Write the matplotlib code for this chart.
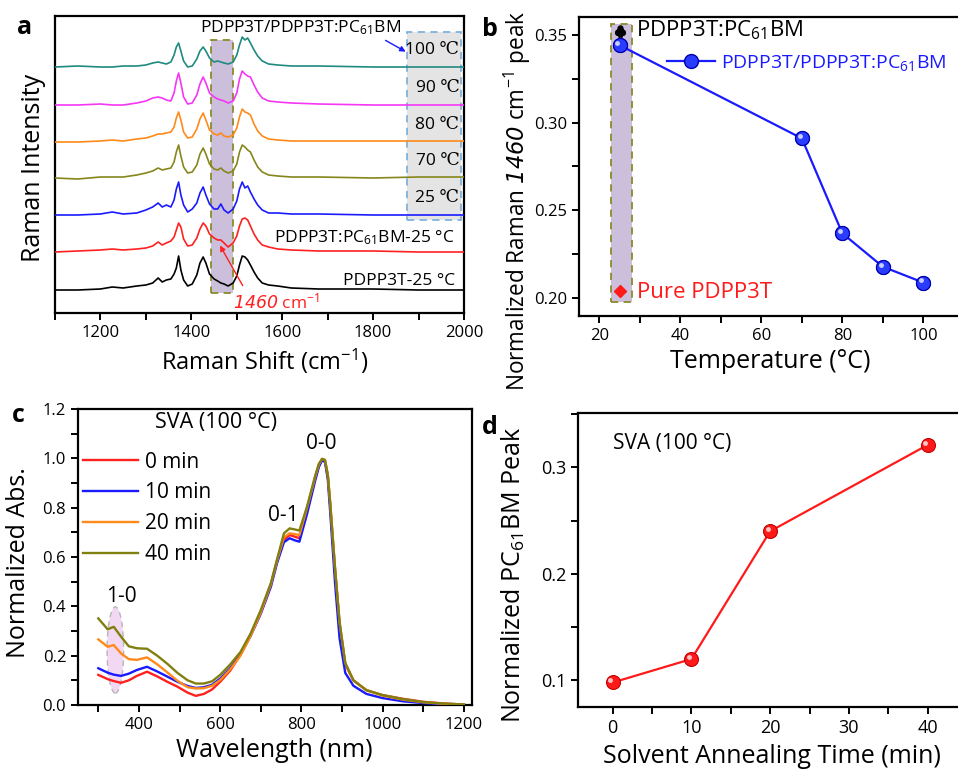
import matplotlib
matplotlib.use('Agg')
import matplotlib.pyplot as plt
from matplotlib.patches import Rectangle, Ellipse
from matplotlib.transforms import offset_copy
from matplotlib.ticker import MultipleLocator, FormatStrFormatter

plt.rcParams['font.family'] = ['Open Sans', 'DejaVu Sans']
plt.rcParams['mathtext.fontset'] = 'custom'
plt.rcParams['mathtext.rm'] = 'Open Sans'
plt.rcParams['mathtext.it'] = 'Open Sans:italic'
plt.rcParams['mathtext.sf'] = 'DejaVu Sans:italic'
plt.rcParams['mathtext.bf'] = 'Open Sans:bold'

# ---------------- Panel a: Raman spectra ----------------
raman_shift = [1100, 1150, 1200, 1226, 1250, 1280, 1300, 1315, 1327, 1336, 1345, 1355, 1362, 1367,
               1372, 1377, 1383, 1392, 1402, 1412, 1419, 1426, 1432, 1440, 1450, 1458, 1465, 1472,
               1481, 1492, 1500, 1506, 1512, 1518, 1524, 1530, 1538, 1546, 1556, 1570, 1590, 1620,
               1680, 1800, 1900, 2000]
raman_black = [0, 0, 1, 3, 2, 4, 5, 7, 12, 8, 10, 11, 16, 22, 34, 20, 10, 4, 6, 15, 27, 33, 27, 16,
               11, 9, 7, 6, 4, 7, 14, 25, 34, 33, 30, 25, 18, 12, 7, 5, 4, 2, 1, 1, 0, 0]
raman_red = [0, 1, 2, 3, 2, 3, 4, 6, 10, 7, 9, 11, 15, 22, 29, 25, 13, 6, 7, 14, 23, 29, 26, 18,
             14, 12, 12, 9, 5, 9, 16, 26, 33, 34, 32, 26, 18, 12, 7, 5, 3, 2, 1, 1, 0, 0]
raman_25 = [0, 0, 1, 3, 1, 2, 5, 8, 12, 8, 10, 8, 15, 26, 33, 20, 10, 3, 6, 12, 22, 28, 20, 11,
            6, 6, 11, 5, 2, 6, 14, 26, 33, 27, 29, 23, 16, 10, 5, 2, 2, 1, 1, 0, 0, 0]
raman_70 = [0, -1, 1, 1, 1, 3, 5, 7, 10, 8, 9, 10, 16, 26, 33, 22, 11, 5, 6, 13, 24, 30, 24, 14,
            9, 8, 10, 7, 5, 7, 14, 26, 33, 31, 28, 26, 18, 11, 6, 3, 2, 1, 1, 0, 1, 1]
raman_80 = [0, 0, 1, 2, 1, 3, 4, 6, 8, 8, 9, 10, 15, 24, 30, 22, 10, 4, 5, 13, 23, 29, 22, 12,
            8, 7, 9, 6, 5, 7, 14, 25, 33, 30, 29, 27, 18, 11, 6, 3, 2, 1, 1, 1, 1, 1]
raman_90 = [0, 0, 1, 0, 0, 2, 4, 7, 8, 7, 5, 4, 12, 24, 32, 22, 8, 1, 2, 10, 21, 28, 22, 12,
            8, 6, 5, 4, 2, 4, 12, 26, 34, 31, 29, 28, 20, 13, 7, 4, 3, 2, 1, 0, 0, 0]
raman_100 = [0, 1, 0, 0, 1, 1, 2, 4, 5, 4, 3, 5, 12, 20, 24, 16, 6, 0, 1, 8, 16, 20, 16, 9,
             5, 6, 5, 4, 3, 5, 12, 22, 30, 27, 29, 24, 17, 11, 6, 3, 2, 1, 1, 0, 0, 0]
raman_traces = [raman_black, raman_red, raman_25, raman_70, raman_80, raman_90, raman_100]
raman_offsets = [23, 61, 98, 135, 171, 208, 246]
raman_colors = ['#000000', '#ff2020', '#1a1aff', '#86861c', '#ff8a1a', '#f536f5', '#1f8a80']
temp_labels = ['25 ℃', '70 ℃', '80 ℃', '90 ℃', '100 ℃']

# ---------------- Panel b ----------------
temps = [25, 70, 80, 90, 100]
raman_1460 = [0.344, 0.291, 0.237, 0.218, 0.209]
blend_T = [25]
blend_val = [0.352]
pure_T = [25]
pure_val = [0.204]

# ---------------- Panel c: absorption ----------------
wavelength = [300, 323, 338, 356, 375, 395, 420, 445, 470, 495, 520, 540, 560, 580, 600, 625, 650,
              675, 700, 725, 740, 757, 771, 783, 795, 814, 834, 843, 851, 858, 865, 871, 883, 894,
              908, 928, 960, 1000, 1050, 1100, 1150, 1200]
abs_0 = [0.122, 0.105, 0.097, 0.090, 0.100, 0.118, 0.135, 0.116, 0.094, 0.074, 0.050, 0.037, 0.045,
         0.063, 0.094, 0.140, 0.205, 0.285, 0.375, 0.490, 0.585, 0.670, 0.689, 0.683, 0.676, 0.790,
         0.920, 0.972, 0.996, 0.990, 0.930, 0.810, 0.545, 0.330, 0.165, 0.100, 0.060, 0.040, 0.025,
         0.013, 0.006, 0.002]
abs_10 = [0.149, 0.131, 0.123, 0.118, 0.127, 0.142, 0.155, 0.136, 0.115, 0.094, 0.077, 0.069, 0.072,
          0.082, 0.107, 0.150, 0.205, 0.280, 0.370, 0.480, 0.575, 0.660, 0.676, 0.668, 0.662, 0.775,
          0.910, 0.965, 0.992, 0.985, 0.915, 0.780, 0.490, 0.270, 0.130, 0.078, 0.045, 0.028, 0.015,
          0.008, 0.003, 0.001]
abs_20 = [0.266, 0.236, 0.243, 0.209, 0.186, 0.183, 0.193, 0.165, 0.132, 0.098, 0.072, 0.067, 0.068,
          0.078, 0.101, 0.145, 0.200, 0.280, 0.375, 0.490, 0.585, 0.680, 0.696, 0.693, 0.689, 0.800,
          0.925, 0.975, 0.998, 0.994, 0.935, 0.820, 0.550, 0.335, 0.170, 0.100, 0.060, 0.038, 0.022,
          0.011, 0.005, 0.002]
abs_40 = [0.351, 0.307, 0.317, 0.277, 0.238, 0.230, 0.228, 0.200, 0.167, 0.130, 0.100, 0.087, 0.087,
          0.096, 0.122, 0.165, 0.215, 0.290, 0.385, 0.495, 0.590, 0.696, 0.716, 0.712, 0.707, 0.805,
          0.930, 0.978, 0.998, 0.993, 0.932, 0.815, 0.550, 0.335, 0.170, 0.100, 0.060, 0.040, 0.024,
          0.012, 0.006, 0.002]
abs_series = [abs_0, abs_10, abs_20, abs_40]
abs_labels = ['0 min', '10 min', '20 min', '40 min']
abs_colors = ['#ff2020', '#1a1aff', '#ff8a1a', '#808010']

# ---------------- Panel d ----------------
sva_time = [0, 10, 20, 40]
pcbm_peak = [0.098, 0.120, 0.240, 0.321]

W, H = 958, 771
fig = plt.figure(figsize=(W / 100, H / 100), dpi=100)


def ax_px(l, t, r, b):
    return fig.add_axes([l / W, 1 - b / H, (r - l) / W, (b - t) / H])


def style(ax, tick_fs):
    for s in ax.spines.values():
        s.set_linewidth(1.6)
    ax.tick_params(direction='out', width=1.4, length=5, labelsize=tick_fs, top=False, right=False)
    ax.tick_params(which='minor', direction='out', width=1.4, length=5, top=False, right=False)


def spheres(ax, x, y, color, edge):
    ax.plot(x, y, 'o', ms=10, mfc=color, mec=edge, mew=0.8, zorder=5)
    tr = offset_copy(ax.transData, fig=fig, x=-1.6, y=1.6, units='points')
    ax.plot(x, y, 'o', ms=3.5, mfc='white', mec='none', alpha=0.75, transform=tr, zorder=6)


# ===================== Panel a =====================
axA = ax_px(55, 16, 464, 313)
style(axA, 12)
axA.set_xlim(1100, 2000)
axA.set_ylim(0, 297)
axA.set_yticks([])
axA.xaxis.set_major_locator(MultipleLocator(200))
axA.xaxis.set_minor_locator(MultipleLocator(100))
axA.add_patch(Rectangle((1443, 20), 48, 253, facecolor='#cbbfdc', edgecolor='#8a8a2a',
                        ls=(0, (4, 3)), lw=1.3, zorder=1))
axA.add_patch(Rectangle((1874, 93), 119, 188, facecolor='#e4e4e4', edgecolor='#7fb2dc',
                        ls=(0, (4, 3)), lw=1.3, zorder=1))
for tr, off, c in zip(raman_traces, raman_offsets, raman_colors):
    axA.plot(raman_shift, [off + h for h in tr], color=c, lw=1.2, zorder=3)
for lab, off in zip(temp_labels, raman_offsets[2:]):
    axA.text(1990, off + 17, lab, ha='right', va='center', fontsize=12.5, zorder=4,
             family=['Open Sans', 'DejaVu Serif'])
axA.text(1640, 285, 'PDPP3T/PDPP3T:PC$_{61}$BM', ha='center', va='center', fontsize=12.5)
axA.annotate('', xy=(1877, 260), xytext=(1822, 274),
             arrowprops=dict(arrowstyle='-|>', color='#1a1aff', lw=1.0, mutation_scale=8))
axA.text(1980, raman_offsets[1] + 14, 'PDPP3T:PC$_{61}$BM-25 °C', ha='right', va='center', fontsize=12.5)
axA.text(1980, raman_offsets[0] + 9, 'PDPP3T-25 °C', ha='right', va='center', fontsize=12.5)
axA.text(1492, 11, '$\\mathsf{1460}$ cm$^{-1}$', ha='left', va='center', fontsize=12.5, color='#ff2020')
axA.annotate('', xy=(1460, 70), xytext=(1516, 25),
             arrowprops=dict(arrowstyle='-|>', color='#ff2020', lw=1.0, mutation_scale=8))
axA.set_xlabel('Raman Shift (cm$^{-1}$)', fontsize=17)
axA.xaxis.set_label_coords(0.513, -0.115)
axA.set_ylabel('Raman Intensity', fontsize=18)
axA.yaxis.set_label_coords(-0.022, 0.49)

# ===================== Panel b =====================
axB = ax_px(579, 17, 972, 316)
style(axB, 12)
axB.set_xlim(15, 112)
axB.set_ylim(0.19, 0.36)
axB.xaxis.set_major_locator(MultipleLocator(20))
axB.xaxis.set_minor_locator(MultipleLocator(10))
axB.yaxis.set_major_locator(MultipleLocator(0.05))
axB.yaxis.set_minor_locator(MultipleLocator(0.025))
axB.yaxis.set_major_formatter(FormatStrFormatter('%.2f'))
axB.add_patch(Rectangle((22.9, 0.198), 5.2, 0.158, facecolor='#cbbfdc', edgecolor='#8a8a2a',
                        ls=(0, (4, 3)), lw=1.3, zorder=1))
axB.plot(temps, raman_1460, '-', color='#1a1aff', lw=1.6, zorder=4,
         label='PDPP3T/PDPP3T:PC$_{61}$BM', marker='o', ms=10, mfc='#2a3cff', mec='#0000b0')
spheres(axB, temps, raman_1460, '#2a3cff', '#0000b0')
axB.plot(blend_T, blend_val, ls='none', marker='$♣$', ms=8, color='black', zorder=5)
axB.plot(pure_T, pure_val, ls='none', marker='D', ms=6, color='#ff1a1a', zorder=5)
axB.text(29.0, 0.3525, 'PDPP3T:PC$_{61}$BM', ha='left', va='center', fontsize=16)
axB.text(29.4, 0.2035, 'Pure PDPP3T', ha='left', va='center', fontsize=16, color='#ff1a1a')
axB.legend(loc='center left', bbox_to_anchor=(0.203, 0.846), frameon=False, fontsize=14,
           handlelength=2.5, handletextpad=0.3, borderaxespad=0, labelcolor='#1a1aff')
axB.set_xlabel('Temperature (°C)', fontsize=18)
axB.xaxis.set_label_coords(0.486, -0.112)
axB.set_ylabel('Normalized Raman $\\mathsf{1460}$ cm$^{-1}$ peak', fontsize=16.3)
axB.yaxis.set_label_coords(-0.117, 0.385)

# ===================== Panel c =====================
axC = ax_px(78, 409, 472, 705)
style(axC, 12)
axC.set_xlim(250, 1220)
axC.set_ylim(0, 1.2)
axC.xaxis.set_major_locator(MultipleLocator(200))
axC.xaxis.set_minor_locator(MultipleLocator(100))
axC.yaxis.set_major_locator(MultipleLocator(0.2))
axC.yaxis.set_minor_locator(MultipleLocator(0.1))
axC.yaxis.set_major_formatter(FormatStrFormatter('%.1f'))
axC.add_patch(Ellipse((342, 0.223), 41, 0.35, facecolor='#f2d4f2', edgecolor='#b0b0b0',
                      ls=(0, (4, 3)), lw=1.0, zorder=1, alpha=0.9))
for ys, lab, c in zip(abs_series, abs_labels, abs_colors):
    axC.plot(wavelength, ys, color=c, lw=1.7, label=lab, zorder=3)
axC.legend(loc='upper left', bbox_to_anchor=(-0.025, 0.905), frameon=False, fontsize=15,
           handlelength=2.65, handletextpad=0.33, labelspacing=0.47, borderaxespad=0.3)
axC.text(0.195, 0.955, 'SVA (100 °C)', transform=axC.transAxes, ha='left', va='center', fontsize=15.5)
axC.text(848, 1.06, '0-0', ha='center', va='center', fontsize=15)
axC.text(756, 0.77, '0-1', ha='center', va='center', fontsize=15)
axC.text(356, 0.44, '1-0', ha='center', va='center', fontsize=15)
axC.set_xlabel('Wavelength (nm)', fontsize=18)
axC.xaxis.set_label_coords(0.497, -0.112)
axC.set_ylabel('Normalized Abs.', fontsize=18)
axC.yaxis.set_label_coords(-0.12, 0.48)

# ===================== Panel d =====================
axD = ax_px(578, 413, 967, 707)
style(axD, 13)
axD.set_xlim(-4.4, 45)
axD.set_ylim(0.075, 0.351)
axD.xaxis.set_major_locator(MultipleLocator(10))
axD.xaxis.set_minor_locator(MultipleLocator(5))
axD.yaxis.set_major_locator(MultipleLocator(0.1))
axD.yaxis.set_minor_locator(MultipleLocator(0.05))
axD.yaxis.set_major_formatter(FormatStrFormatter('%.1f'))
axD.plot(sva_time, pcbm_peak, '-', color='#ff1a1a', lw=1.6, zorder=4)
spheres(axD, sva_time, pcbm_peak, '#ff1a1a', '#c00000')
axD.text(0.09, 0.895, 'SVA (100 °C)', transform=axD.transAxes, ha='left', va='center', fontsize=15)
axD.set_xlabel('Solvent Annealing Time (min)', fontsize=18)
axD.xaxis.set_label_coords(0.499, -0.125)
axD.set_ylabel('Normalized PC$_{61}$BM Peak', fontsize=18)
axD.yaxis.set_label_coords(-0.13, 0.45)

# panel letters
for letter, (px, py) in zip('abcd', [(25, 28), (490, 30), (18, 416), (490, 428)]):
    fig.text(px / W, 1 - py / H, letter, ha='center', va='center', fontsize=18, fontweight='bold')

fig.savefig('out.png', dpi=100)
